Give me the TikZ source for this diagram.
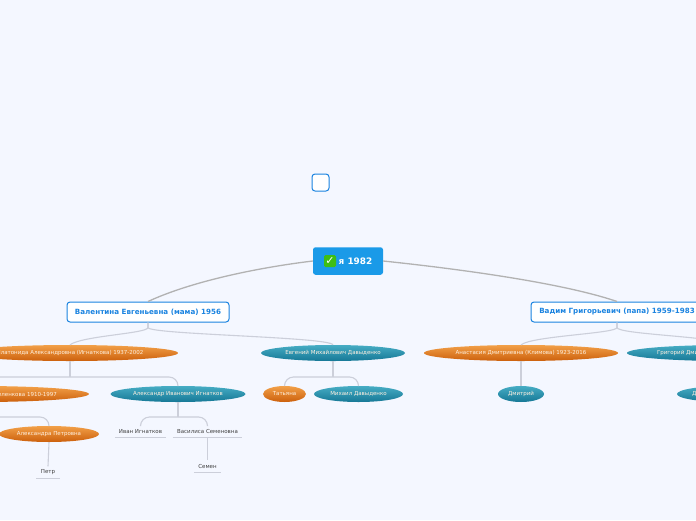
\documentclass[tikz,border=0pt]{standalone}
\usepackage{fontspec}
\setsansfont{DejaVu Sans}
\usepackage{tikz}
\usetikzlibrary{arrows.meta,positioning,calc,shapes.geometric}
\definecolor{pagebg}{RGB}{244,247,255}
\definecolor{topicblue}{RGB}{26,131,224}
\definecolor{rootblue}{RGB}{26,154,232}
\definecolor{okgreen}{RGB}{62,190,20}
\definecolor{orangetop}{RGB}{242,160,72}
\definecolor{orangelow}{RGB}{204,96,12}
\definecolor{tealtop}{RGB}{70,172,196}
\definecolor{teallow}{RGB}{22,120,150}
\definecolor{linkgrey}{RGB}{204,207,218}
\tikzset{
  rootbox/.style={fill=rootblue, rounded corners=2.5pt, text=white, align=center,
    minimum width=70pt, minimum height=27.5pt, inner sep=0pt, font=\sffamily\bfseries\fontsize{8.9}{9}\selectfont},
  topic/.style={draw=topicblue, line width=1pt, rounded corners=3pt, fill=white, align=center, text=topicblue,
    minimum height=20pt, inner sep=0pt, font=\sffamily\bfseries\fontsize{7.15}{8}\selectfont},
  oval/.style={ellipse, inner sep=0pt, minimum height=16pt, text=white!88!orange, align=center,
    font=\sffamily\fontsize{5.5}{6}\selectfont},
  aunt/.style={oval, top color=orangetop, bottom color=orangelow},
  uncle/.style={oval, top color=tealtop, bottom color=teallow},
  leaf/.style={inner sep=0pt, minimum height=12pt, text=black!75, align=center,
    font=\sffamily\fontsize{5.5}{6}\selectfont,
    append after command={(\tikzlastnode.south west) edge[draw=linkgrey, thick] (\tikzlastnode.south east)}},
  link/.style={draw=linkgrey, line width=1.1pt},
  rootlink/.style={draw=black!30, line width=1.3pt},
  fork/.style={link, rounded corners=9pt}
}
\newcommand{\stem}[2]{\draw[link] (#1.south) -- (#1.south |- 0,#2);}
\newcommand{\branch}[3]{\draw[fork] (#1.south |- 0,#3) -| (#2.north);}
\begin{document}
\begin{tikzpicture}[x=1pt,y=-1pt,font=\sffamily]
    \useasboundingbox (0,0) rectangle (696,520);
    \clip (0,0) rectangle (696,520);
    \fill[pagebg] (0,0) rectangle (696,520);
    % центр
    \node[topic, minimum width=17pt, minimum height=17pt] (blank) at (320.5,182.5) {};
    \node[rootbox] (root) at (348,261) {\hspace{15pt}я 1982};
    \node[fill=okgreen, rounded corners=1.5pt, minimum size=12pt, inner sep=0pt, text=white, font=\sffamily\bfseries\fontsize{11}{11}\selectfont] (tick) at (330,261) {✓};
    % родители
    \node[topic, minimum width=162pt] (mama) at (148,312) {Валентина Евгеньевна (мама) 1956};
    \node[topic, minimum width=172pt] (papa) at (617,312) {Вадим Григорьевич (папа) 1959-1983};
    % мамина сторона
    \node[aunt, minimum width=216pt] (platonida) at (70,353) {Платонида Александровна (Игнаткова) 1937-2002};
    \node[uncle, minimum width=144pt] (evgeny) at (333,353) {Евгений Михайлович Давыденко};
    \node[aunt, minimum width=214pt, text width=154pt, align=right] (zelen) at (-20,394) {еленкова 1910-1997};
    \node[uncle, minimum width=135pt] (alexandr) at (178,394) {Александр Иванович Игнатков};
    \node[aunt, minimum width=43pt] (tatyana) at (284.5,394) {Татьяна};
    \node[uncle, minimum width=89pt] (mikhail) at (358.5,394) {Михаил Давыденко};
    \node[aunt, minimum width=100pt] (alexandra) at (49,434) {Александра Петровна};
    \node[leaf, minimum width=51pt] (ivan) at (140.5,431.5) {Иван Игнатков};
    \node[leaf, minimum width=69pt] (vasilisa) at (207.5,431.5) {Василиса Семеновна};
    \node[leaf, minimum width=27pt] (semen) at (207.5,466.5) {Семен};
    \node[leaf, minimum width=23pt] (petr) at (48,472.5) {Петр};
    % папина сторона
    \node[aunt, minimum width=194pt] (anastasia) at (521,353) {Анастасия Дмитриевна (Климова) 1923-2016};
    \node[uncle, minimum width=200pt, text width=140pt, align=left] (grigory) at (727,353) {Григорий Дми};
    \node[uncle, minimum width=46pt] (dmitry) at (521,394) {Дмитрий};
    \node[uncle, minimum width=100pt, text width=70pt, align=left] (dsecond) at (727,394) {Д};
    % связи
    \draw[rootlink] (root.west) .. controls (255,268) and (190,282) .. (mama.north);
    \draw[rootlink] (root.east) .. controls (450,268) and (560,282) .. (papa.north);
    \draw[link] (mama.south) -- ++(0,5) .. controls +(0,6) and ($(platonida.north)+(12,-9)$) .. (platonida.north);
    \draw[link] (mama.south) -- ++(0,5) .. controls +(0,7) and ($(evgeny.north)+(-4,-8)$) .. (evgeny.north);
    \draw[link] (papa.south) -- ++(0,5) .. controls +(0,6) and ($(anastasia.north)+(12,-9)$) .. (anastasia.north);
    \draw[link] (papa.south) -- ++(0,5) .. controls +(0,7) and ($(grigory.north)+(-4,-8)$) .. (grigory.north);
    \stem{platonida}{377}
    \branch{platonida}{zelen}{377}
    \branch{platonida}{alexandr}{377}
    \stem{zelen}{417}
    \branch{zelen}{alexandra}{417}
    \stem{alexandr}{417}
    \branch{alexandr}{ivan}{417}
    \branch{alexandr}{vasilisa}{417}
    \stem{evgeny}{377}
    \branch{evgeny}{tatyana}{377}
    \branch{evgeny}{mikhail}{377}
    \draw[link] (alexandra.south) -- (petr.north);
    \draw[link] (vasilisa.south) -- (semen.north);
    \draw[link] (anastasia.south) -- (dmitry.north);
\end{tikzpicture}
\end{document}
